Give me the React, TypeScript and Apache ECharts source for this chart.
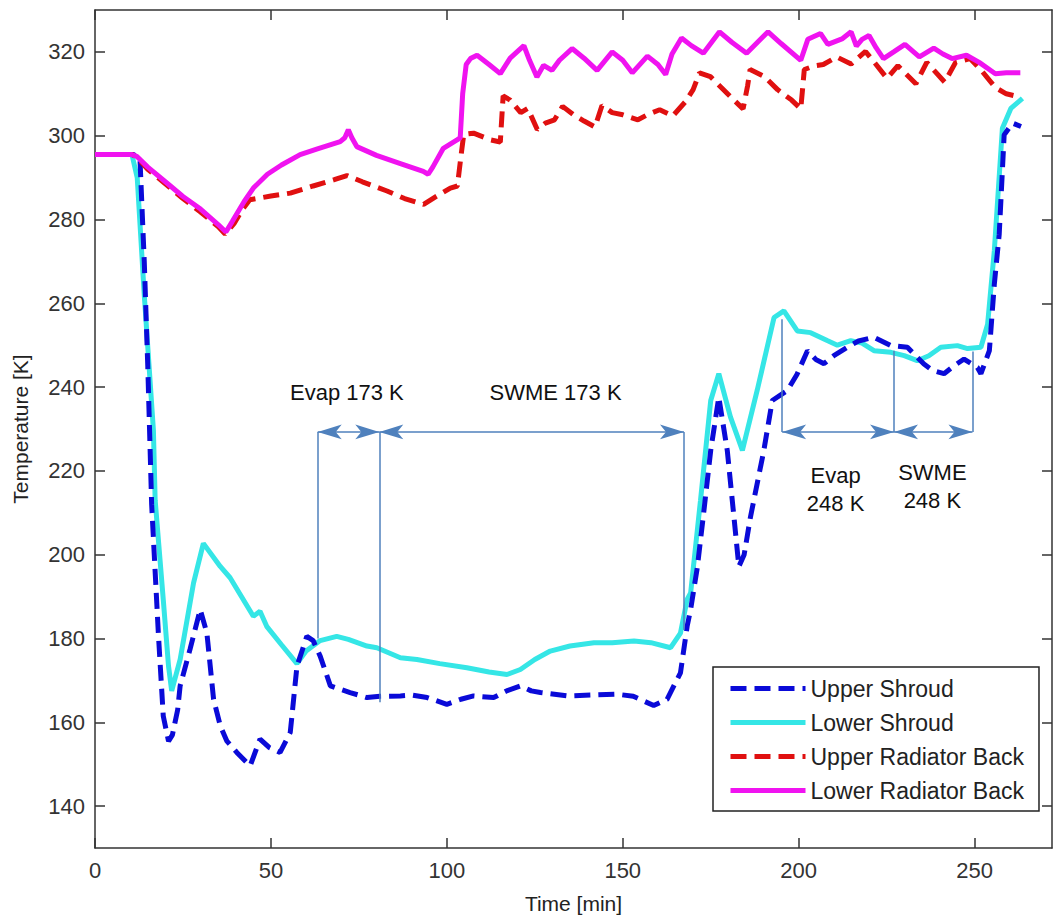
import React, { useEffect, useRef } from "react";
import * as echarts from "echarts";

// ---- data (time in min, temperature in K) ----
const usTime = [0, 11, 12.8, 14, 15, 16.1, 18, 19.4, 20.9, 22, 23.5, 24.2, 27, 29.9, 31.8, 33.7, 35.6, 37.5, 40.3, 44.1, 46.9, 49.5, 52.6, 55.5, 57.4, 60.2, 62, 64, 66.9, 70, 72.5, 77.3, 81, 86.8, 90, 94.4, 100, 104, 107.6, 113.3, 117, 120.9, 124, 126.6, 134.2, 141, 148.4, 153, 158.8, 162.6, 166.4, 168.3, 169.3, 171.2, 173, 175, 177.3, 179.7, 181.6, 183, 184.5, 186.3, 190.1, 192.5, 196.8, 199.5, 202.5, 205, 207.2, 210, 213.8, 217, 221.4, 226.2, 230.9, 235.6, 238, 241.3, 244, 247, 250.8, 251.8, 254.2, 255.6, 257, 258.4, 260.8, 263.2];
const usTemp = [295.5, 295.5, 294, 270, 245, 212, 181.3, 161.5, 155.5, 157, 163, 168.7, 177.4, 186.9, 181.3, 165.5, 159.2, 155.5, 152.8, 149.6, 156, 154, 152.8, 157.6, 173.4, 180.5, 179.5, 175.8, 168.7, 167.8, 167.1, 165.9, 166.2, 166.3, 166.5, 165.9, 164.3, 165.5, 166.3, 165.9, 167.5, 168.7, 167.5, 167.1, 166.3, 166.5, 166.7, 166.2, 164, 165.5, 171.8, 182.9, 187, 197, 210, 224.9, 237.6, 224.9, 209, 197.2, 200, 209, 224.9, 236.8, 239.2, 243, 248.7, 246.5, 245.6, 247.5, 249.5, 251, 251.9, 249.9, 249.5, 245.5, 244, 243.2, 245, 246.7, 244.7, 243.2, 248.7, 264.5, 276.5, 300.2, 303, 302.2];

const lsTime = [0, 10.5, 12, 14, 16.6, 17.1, 19.4, 20.9, 21.8, 24.2, 28, 30.8, 35.6, 38.4, 45, 46.9, 48.8, 53, 57.4, 60, 64, 68.7, 72, 77.3, 80.1, 86.8, 91.5, 98, 105.7, 112, 117.1, 120.9, 125, 129.4, 135, 141.8, 147, 153.2, 158, 163.6, 166.4, 168.3, 169.3, 172.1, 175, 177.3, 180.6, 184, 188.2, 193, 195.8, 199.6, 203.4, 208.1, 211, 214.8, 218, 221.4, 226.2, 230, 233.7, 237, 240.4, 245.1, 248, 251.8, 253.7, 255.6, 257.9, 260.3, 263.6];
const lsTemp = [295.5, 295.5, 290, 262, 229.7, 213, 189.3, 173.4, 167.5, 175, 193.2, 202.7, 197.2, 194.5, 185.3, 186.5, 182.9, 178.5, 174, 177, 179.5, 180.5, 179.8, 178.2, 177.8, 175.4, 175, 174, 173, 172, 171.4, 172.6, 175, 177, 178.2, 179, 179, 179.4, 179, 177.8, 181.3, 189.3, 190.9, 213, 236.8, 243.2, 232.9, 224.9, 239.2, 256.6, 258.2, 253.4, 253, 251.1, 250, 251.1, 250.5, 248.7, 248.3, 247.5, 246.3, 247.5, 249.5, 249.9, 249.2, 249.5, 255, 272.5, 301.8, 306.5, 308.9];

const urbTime = [0, 10.5, 12, 15, 20, 25, 30, 35, 37, 39.5, 42, 44, 50, 55.5, 62, 68, 71.6, 76, 83, 88, 93.4, 97, 101, 103, 104, 104.8, 107.6, 112.4, 115.2, 116, 118, 121, 123, 125.7, 128, 130.6, 132.9, 136, 139, 142.1, 144.1, 147, 150, 154.3, 157, 160.5, 164.2, 167.8, 170, 171.8, 174.9, 178, 181, 184.2, 185.5, 186.2, 190.3, 194, 198, 200.6, 201.6, 204.6, 207, 210.8, 214.9, 219, 222, 225.1, 228.2, 233.3, 236.4, 241.5, 244.6, 248.7, 252, 255.9, 259, 263];
const urbTemp = [295.5, 295.5, 294.8, 292, 288.5, 285, 281.8, 278.3, 276.5, 279, 282.5, 284.7, 285.6, 286.3, 288, 289.5, 290.5, 289, 286.8, 285, 283.6, 285.5, 287.5, 288, 295, 300.3, 300.6, 299, 298.5, 309.5, 308.5, 305.5, 306.5, 301.5, 303, 303.8, 307, 305, 303.5, 302.1, 307.2, 305.5, 305, 303.8, 305, 306.2, 304.7, 308.1, 311, 315, 314.1, 311.5, 309, 306.4, 312, 315.8, 314.1, 311, 308.5, 306.4, 315.8, 316.7, 317, 318.8, 317.1, 320.1, 317, 313.7, 316.7, 312.4, 317.5, 312.8, 317.5, 318.4, 315.5, 311.5, 310, 309.2];

const lrbTime = [0, 5, 10.5, 12, 15, 20, 25, 30, 35, 37.2, 39, 42.4, 45, 49, 53, 58.3, 63, 69.7, 71, 72, 73, 74.4, 80, 87, 93.3, 94.7, 96, 99, 102.9, 103.8, 104.5, 105.5, 106.7, 108.6, 112, 115.2, 118, 121.9, 123.5, 125.6, 127.5, 129.9, 132, 135.6, 139, 142.7, 147, 150, 152.7, 157, 160, 162.2, 164, 166.7, 169.5, 172.9, 177.5, 181, 185.2, 191.3, 195, 200.6, 202.6, 206.2, 208.3, 212.3, 214.9, 216.4, 218, 220, 222, 224.1, 227, 230.2, 234.3, 238.4, 241, 243.6, 247.7, 251.3, 255.9, 259, 263];
const lrbTemp = [295.5, 295.5, 295.5, 295, 292.5, 289, 285.5, 282.5, 278.8, 277, 279.5, 284.3, 287.5, 290.8, 293, 295.5, 296.8, 298.6, 299.5, 301.4, 299.5, 297.4, 295.3, 293.3, 291.5, 290.8, 292.5, 297, 299, 299.5, 310, 317, 318.4, 319.2, 317, 314.8, 318.5, 321.5, 318, 314, 316.8, 315.6, 318, 320.8, 318.5, 315.6, 320, 318, 315, 319, 317, 314.6, 319.5, 323.3, 321.5, 319.7, 324.8, 322.3, 319.7, 324.8, 322, 318, 323, 324.4, 321.8, 323.1, 324.8, 321.4, 323, 323.9, 321, 318.4, 320, 321.8, 318.8, 320.9, 319.5, 318.4, 319.2, 317.5, 314.8, 315, 315];

const seriesNames = ["Upper Shroud", "Lower Shroud", "Upper Radiator Back", "Lower Radiator Back"];
const xTicks = [0, 50, 100, 150, 200, 250];
const yTicks = [140, 160, 180, 200, 220, 240, 260, 280, 300, 320];

// annotation anchors (data units)
const arrowLevel = 229.3;
const bounds173 = [63.3, 80.8, 167.4];
const bottoms173 = [180, 164.8, 182];
const bounds248 = [195.3, 227.1, 249.4];
const tops248 = [256.2, 248.7, 248.5];
const phaseText = ["Evap 173 K", "SWME 173 K", "Evap\n248 K", "SWME\n248 K"];
const phaseTextTime = [71.6, 130.9, 210.5, 238];
const phaseTextTemp = [238.8, 238.8, 215.6, 216.2];

const FONT = "'Liberation Sans', Arial, Helvetica, sans-serif";
const AX = "#333";
const ANN = "#4f81bd";

const zip = (a: number[], b: number[]) => a.map((v, i) => [v, b[i]]);

export default function App() {
  const ref = useRef<HTMLDivElement>(null);
  useEffect(() => {
    if (!ref.current) return;
    const chart = echarts.init(ref.current, undefined, { renderer: "svg" });

    const mkLine = (name: string, t: number[], T: number[], color: string, dashed: boolean, z: number) => ({
      name,
      type: "line",
      data: zip(t, T),
      symbol: "none",
      color,
      z,
      lineStyle: { color, width: 5, type: dashed ? [16, 8] : "solid" },
      emphasis: { disabled: true },
    });

    const vertLines: any[] = [];
    bounds173.forEach((t, i) => vertLines.push([{ coord: [t, arrowLevel] }, { coord: [t, bottoms173[i]] }]));
    bounds248.forEach((t, i) => vertLines.push([{ coord: [t, tops248[i]] }, { coord: [t, arrowLevel] }]));
    const arrows: any[] = [];
    for (let i = 0; i < bounds173.length - 1; i++) arrows.push([{ coord: [bounds173[i], arrowLevel] }, { coord: [bounds173[i + 1], arrowLevel] }]);
    for (let i = 0; i < bounds248.length - 1; i++) arrows.push([{ coord: [bounds248[i], arrowLevel] }, { coord: [bounds248[i + 1], arrowLevel] }]);

    const axisCommon = {
      type: "value",
      axisLine: { show: true, onZero: false, lineStyle: { color: AX, width: 1.5 } },
      splitLine: { show: false },
    };

    chart.setOption({
      animation: false,
      backgroundColor: "#fff",
      grid: { left: 95, right: 3, top: 10, bottom: 70, containLabel: false },
      xAxis: [
        {
          ...axisCommon,
          min: 0,
          max: 272,
          position: "bottom",
          axisTick: { show: true, inside: true, length: 10, customValues: xTicks, lineStyle: { color: AX, width: 1.5 } },
          axisLabel: { customValues: xTicks, fontSize: 22, color: AX, margin: 11, fontFamily: FONT },
          name: "Time [min]",
          nameLocation: "middle",
          nameGap: 45,
          nameTextStyle: { fontSize: 21, color: "#222", fontFamily: FONT },
        },
        {
          ...axisCommon,
          min: 0,
          max: 272,
          position: "top",
          axisTick: { show: true, inside: true, length: 10, customValues: xTicks, lineStyle: { color: AX, width: 1.5 } },
          axisLabel: { show: false },
        },
      ],
      yAxis: [
        {
          ...axisCommon,
          min: 130,
          max: 330,
          position: "left",
          axisTick: { show: true, inside: true, length: 10, customValues: yTicks, lineStyle: { color: AX, width: 1.5 } },
          axisLabel: { customValues: yTicks, fontSize: 22, color: AX, margin: 10, fontFamily: FONT },
          name: "Temperature [K]",
          nameLocation: "middle",
          nameGap: 64,
          nameTextStyle: { fontSize: 21, color: "#222", fontFamily: FONT },
        },
        {
          ...axisCommon,
          min: 130,
          max: 330,
          position: "right",
          axisTick: { show: true, inside: true, length: 10, customValues: yTicks, lineStyle: { color: AX, width: 1.5 } },
          axisLabel: { show: false },
        },
      ],
      legend: {
        data: seriesNames,
        orient: "vertical",
        left: 713,
        top: 667,
        itemWidth: 75,
        itemHeight: 14,
        itemGap: 11,
        padding: [10, 15, 9, 15],
        borderColor: "#222",
        borderWidth: 1.5,
        backgroundColor: "#fff",
        itemStyle: { opacity: 0 },
        lineStyle: { width: 5 },
        textStyle: { fontSize: 23, color: "#222", fontFamily: FONT },
        selectedMode: false,
      },
      series: [
        mkLine(seriesNames[0], usTime, usTemp, "#0a0ad8", true, 3),
        mkLine(seriesNames[1], lsTime, lsTemp, "#35e6e6", false, 2),
        mkLine(seriesNames[2], urbTime, urbTemp, "#e01010", true, 4),
        mkLine(seriesNames[3], lrbTime, lrbTemp, "#f013f0", false, 5),
        {
          name: "phase-bounds",
          type: "line",
          data: [],
          z: 6,
          silent: true,
          markLine: {
            silent: true,
            symbol: ["none", "none"],
            label: { show: false },
            lineStyle: { color: ANN, width: 1.5, type: "solid" },
            emphasis: { disabled: true },
            data: vertLines,
          },
        },
        {
          name: "phase-arrows",
          type: "line",
          data: [],
          z: 6,
          silent: true,
          markLine: {
            silent: true,
            symbol: ["arrow", "arrow"],
            symbolSize: [11, 24],
            label: { show: false },
            lineStyle: { color: ANN, width: 1.5, type: "solid" },
            itemStyle: { color: ANN },
            emphasis: { disabled: true },
            data: arrows,
          },
        },
        {
          name: "phase-labels",
          type: "line",
          data: [],
          z: 7,
          silent: true,
          markPoint: {
            silent: true,
            symbol: "circle",
            symbolSize: 0,
            itemStyle: { color: "transparent" },
            label: {
              show: true,
              position: "inside",
              fontSize: 22,
              lineHeight: 28,
              color: "#111",
              fontFamily: FONT,
              align: "center",
              formatter: (p: any) => p.name,
            },
            data: phaseText.map((s, i) => ({ name: s, coord: [phaseTextTime[i], phaseTextTemp[i]] })),
          },
        },
      ],
    });
    return () => chart.dispose();
  }, []);
  return (
    <div
      ref={ref}
      style={{ position: "fixed", left: 0, top: 0, width: 1055, height: 919, background: "#fff" }}
    />
  );
}
